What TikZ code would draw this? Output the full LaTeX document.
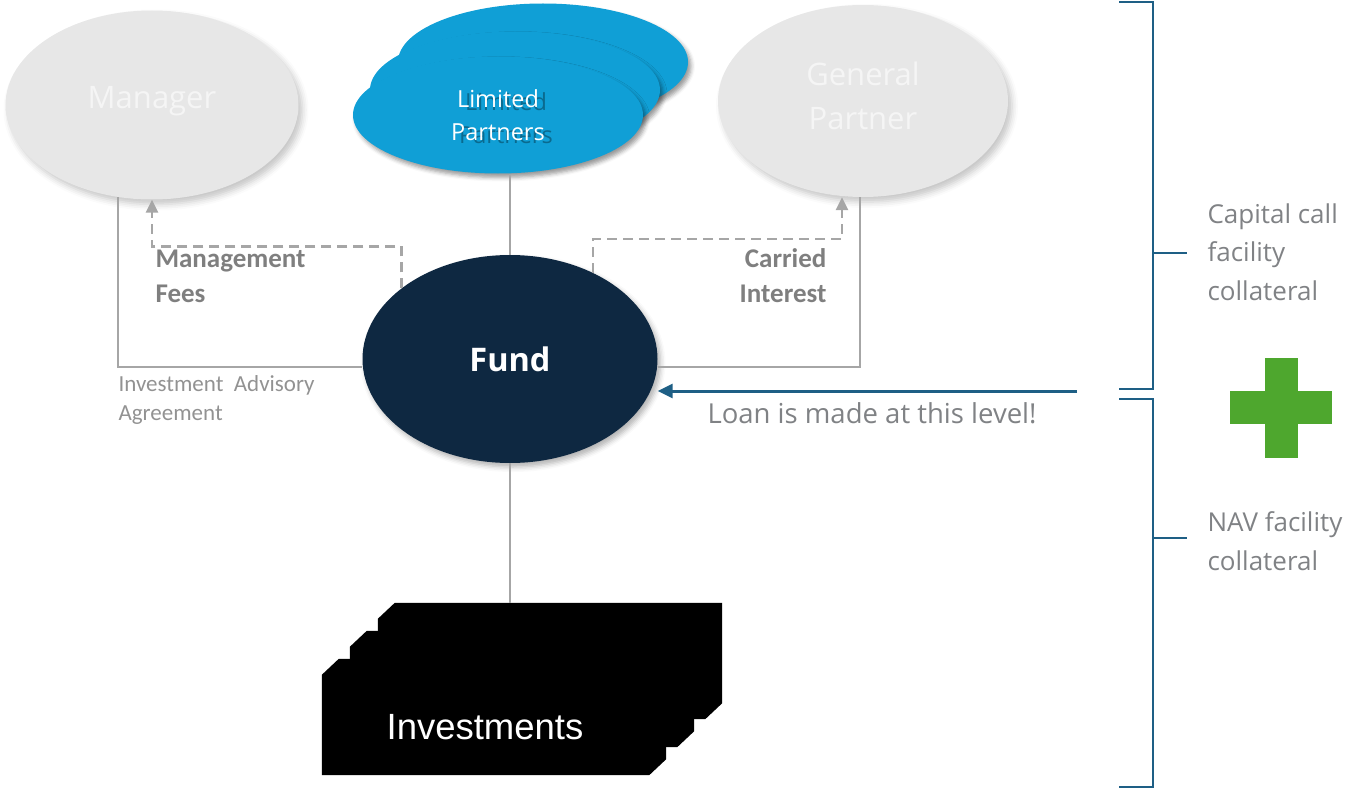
\documentclass[tikz,border=0pt]{standalone}
\usepackage{fontspec}
\setmainfont{Open Sans}
\newfontfamily\carlito{Carlito}
\newfontfamily\grotesk{Liberation Sans}
\usetikzlibrary{arrows.meta,positioning,calc,shapes.geometric,shadows.blur,backgrounds}
\definecolor{paleGray}{RGB}{231,231,231}
\definecolor{lpBlue}{RGB}{16,159,214}
\definecolor{fundNavy}{RGB}{14,40,65}
\definecolor{linkGray}{RGB}{166,166,166}
\definecolor{labelGray}{RGB}{127,127,127}
\definecolor{noteGray}{RGB}{128,130,133}
\definecolor{loanBlue}{RGB}{30,95,133}
\definecolor{plusGreen}{RGB}{78,167,46}

\begin{document}
\begin{tikzpicture}[x=1pt,y=-1pt,
        party/.style={ellipse,inner sep=0pt,fill=paleGray,text=white!96!black,align=center,
          font=\fontsize{31}{44}\selectfont,
          blur shadow={shadow xshift=4pt,shadow yshift=-5pt,shadow opacity=22,shadow blur radius=6pt}},
        lplayer/.style={ellipse,inner sep=0pt,fill=lpBlue,minimum width=290pt,minimum height=117pt,
          blur shadow={shadow xshift=3pt,shadow yshift=-4pt,shadow opacity=40,shadow blur radius=4pt}},
        lptext/.style={align=center,font=\fontsize{23.5}{33}\selectfont},
        invcard/.style={rectangle,inner sep=0pt,minimum width=344pt,minimum height=116pt},
        link/.style={draw=linkGray,line width=2pt},
        fee/.style={draw=linkGray,line width=2.5pt,dash pattern=on 10pt off 6pt,
          -{Triangle[length=13pt,width=12pt]}},
        feelabel/.style={text=labelGray,font=\carlito\bfseries\fontsize{27}{35}\selectfont},
        loan/.style={draw=loanBlue,line width=3pt,-{Triangle[length=15pt,width=14pt]}},
        brace/.style={draw=loanBlue,line width=2.5pt},
        note/.style={text=noteGray,align=left,font=\fontsize{26}{38.5}\selectfont}
      ]
        \useasboundingbox (0,0) rectangle (1352,789);

        % the three parties above the fund
        \node[party,minimum width=293pt,minimum height=189pt,text depth=16pt] (manager) at (152,105) {Manager};
        \node[party,minimum width=290pt,minimum height=192pt,text depth=10pt] (gp) at (863,101) {General\\Partner};
        \node[lplayer] (lp3) at (543,62) {};
        \node[lplayer] (lp2) at (515,90) {};
        \node[lplayer] (lp) at (498,115) {};
        \node[lptext,text=black!55!lpBlue,opacity=0.6] (lpghost) at ([shift={(8pt,-3pt)}]lp.center) {Limited\\Partners};
        \node[lptext,text=white] (lplabel) at (lp) {Limited\\Partners};

        % fund and its investments
        \node[ellipse,inner sep=0pt,fill=fundNavy,minimum width=295pt,minimum height=208pt,
          text=white,font=\bfseries\fontsize{32.5}{36}\selectfont,
          blur shadow={shadow xshift=3pt,shadow yshift=-4pt,shadow opacity=30,shadow blur radius=5pt}]
          (fund) at (510,359) {Fund};
        \node[invcard] (inv3) at (550,661) {};
        \node[invcard] (inv2) at (522,689) {};
        \node[invcard,text=white,text height=46pt,font=\grotesk\fontsize{36.5}{40}\selectfont]
          (inv) at (494,717) {Investments\hspace*{18pt}};
        % cards with two snipped corners, behind the label
        \begin{scope}[on background layer]
          \foreach \card in {inv3,inv2,inv}
            \fill ([yshift=-16pt]\card.north west) -- ([xshift=17pt]\card.north west)
              -- (\card.north east) -- ([yshift=16pt]\card.south east)
              -- ([xshift=-17pt]\card.south east) -- (\card.south west) -- cycle;
        \end{scope}

        % connectors
        \draw[link] (lp.south -| fund.north) -- (fund.north);
        \draw[link] (fund.south) -- (fund.south |- inv3.north);
        \draw[link] (manager.250) |- ([yshift=-8pt]fund.west);
        \draw[link] ([xshift=-3pt]gp.south) |- ([yshift=-8pt]fund.east);
        \draw[fee] (fund.147) -- ++(0,-42) -| (manager.south);
        \draw[fee] (fund.46) -- ++(0,-34) -| ([xshift=-21pt]gp.south);

        \node[feelabel,anchor=west,align=left] (mgmt) at (152,276) {Management\\Fees};
        \node[feelabel,anchor=east,align=right] (carry) at (830,276) {Carried\\Interest};
        \node[text=labelGray!85!white,anchor=west,align=left,font=\carlito\fontsize{23}{29}\selectfont]
          (iaa) at (115,400) {Investment~ Advisory\\Agreement};

        % loan level
        \coordinate (loanstart) at (1077,391);
        \draw[loan] (loanstart) -- (loanstart -| fund.east);
        \node[note,below=8pt of loanstart,xshift=-205pt,font=\fontsize{27.5}{32}\selectfont] (loantext) {Loan is made at this level!};

        % collateral brackets
        \draw[brace] (1119,2) -| (1153,389) -- (1119,389);
        \draw[brace] (1153,253) -- (1187,253);
        \draw[brace] (1119,399) -| (1153,787) -- (1119,787);
        \draw[brace] (1153,538) -- (1187,538);
        \node[note,anchor=west] (capcall) at (1204,252) {Capital call\\facility\\collateral};
        \node[note,anchor=west] (navfac) at (1204,541) {NAV facility\\collateral};

        % plus sign between the two
        \fill[plusGreen] (1265,358) rectangle (1298,458);
        \fill[plusGreen] (1230,391) rectangle (1332,424);
      \end{tikzpicture}
\end{document}
